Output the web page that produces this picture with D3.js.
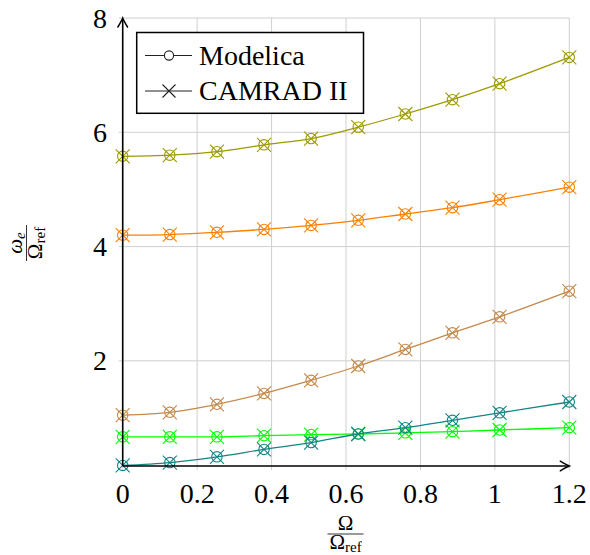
<!DOCTYPE html>
<html>
<head>
<meta charset="utf-8">
<script src="https://cdn.jsdelivr.net/npm/d3@7"></script>
</head>
<body style="margin:0;padding:0;background:#fff">
<svg id="chart" width="590" height="555" style="display:block"></svg>
<script>
// ---- data ----
const omegaRatio = [0, 0.1266, 0.2532, 0.3797, 0.5063, 0.6329, 0.7595, 0.8861, 1.0127, 1.2];
const modeOlive  = [5.58, 5.60, 5.66, 5.78, 5.89, 6.09, 6.32, 6.57, 6.85, 7.31];
const modeOrange = [4.20, 4.21, 4.25, 4.30, 4.37, 4.46, 4.57, 4.68, 4.82, 5.04];
const modeBrown  = [1.05, 1.10, 1.24, 1.43, 1.66, 1.91, 2.20, 2.49, 2.77, 3.22];
const modeGreen  = [0.67, 0.67, 0.67, 0.69, 0.71, 0.72, 0.74, 0.76, 0.79, 0.83];
const modeTeal   = [0.17, 0.22, 0.32, 0.45, 0.57, 0.72, 0.83, 0.96, 1.09, 1.28];
const xTicks = [0, 0.2, 0.4, 0.6, 0.8, 1, 1.2];
const yTicks = [2, 4, 6, 8];
const legendLabels = ["Modelica", "CAMRAD II"];
const seriesColors = ["#9d9a00", "#ff8000", "#c4884a", "#00ff00", "#138585"];

const series = [modeOlive, modeOrange, modeBrown, modeGreen, modeTeal];
const FONT = '"Liberation Serif"';

// ---- layout ----
const svg = d3.select("#chart");
const x = d3.scaleLinear().domain([0, 1.2]).range([122.7, 569.3]);
const y = d3.scaleLinear().domain([0.16, 8]).range([466, 18]);
const gridColor = "#cfcfcf";

// grid
const grid = svg.append("g");
grid.selectAll("line.vx").data(xTicks).enter().append("line")
  .attr("x1", d => x(d)).attr("x2", d => x(d))
  .attr("y1", y(0.16) + 4).attr("y2", y(8))
  .attr("stroke", gridColor).attr("stroke-width", 1);
grid.selectAll("line.hy").data(yTicks).enter().append("line")
  .attr("y1", d => y(d)).attr("y2", d => y(d))
  .attr("x1", x(0) - 4).attr("x2", x(1.2))
  .attr("stroke", gridColor).attr("stroke-width", 1);

// series
const line = d3.line().x((d, i) => x(omegaRatio[i])).y(d => y(d)).curve(d3.curveCatmullRom);
const plots = svg.append("g");
series.forEach((vals, si) => {
  const c = seriesColors[si];
  const g = plots.append("g");
  g.append("path").datum(vals).attr("d", line)
    .attr("fill", "none").attr("stroke", c).attr("stroke-width", 1.3);
  g.selectAll("circle").data(vals).enter().append("circle")
    .attr("cx", (d, i) => x(omegaRatio[i])).attr("cy", d => y(d)).attr("r", 5.2)
    .attr("fill", "none").attr("stroke", c).attr("stroke-width", 1.1);
  g.selectAll("path.cross").data(vals).enter().append("path")
    .attr("class", "cross")
    .attr("d", (d, i) => {
      const cx = x(omegaRatio[i]), cy = y(d), h = 7;
      return `M${cx - h},${cy - h}L${cx + h},${cy + h}M${cx - h},${cy + h}L${cx + h},${cy - h}`;
    })
    .attr("fill", "none").attr("stroke", c).attr("stroke-width", 1.1);
});

// axes
const axes = svg.append("g");
axes.append("line").attr("x1", x(0)).attr("x2", x(1.2) - 1).attr("y1", y(0.16)).attr("y2", y(0.16))
  .attr("stroke", "#000").attr("stroke-width", 1.6);
axes.append("line").attr("x1", x(0)).attr("x2", x(0)).attr("y1", y(0.16)).attr("y2", y(8) + 1)
  .attr("stroke", "#000").attr("stroke-width", 1.6);
axes.append("path")
  .attr("d", "M-9,-4.8 Q-3,-1.2 0,0 Q-3,1.2 -9,4.8")
  .attr("transform", `translate(${x(1.2)},${y(0.16)})`)
  .attr("fill", "none").attr("stroke", "#000").attr("stroke-width", 1.5).attr("stroke-linecap", "round");
axes.append("path")
  .attr("d", "M-9,-4.8 Q-3,-1.2 0,0 Q-3,1.2 -9,4.8")
  .attr("transform", `translate(${x(0)},${y(8)}) rotate(-90)`)
  .attr("fill", "none").attr("stroke", "#000").attr("stroke-width", 1.5).attr("stroke-linecap", "round");

// tick labels
axes.selectAll("text.xt").data(xTicks).enter().append("text")
  .style("font-family", FONT).style("font-size", "28px")
  .attr("x", d => x(d)).attr("y", 503)
  .attr("text-anchor", "middle").attr("fill", "#000")
  .text(d => String(d));
axes.selectAll("text.yt").data(yTicks).enter().append("text")
  .style("font-family", FONT).style("font-size", "28px")
  .attr("x", 107).attr("y", d => y(d) + 9.5)
  .attr("text-anchor", "end").attr("fill", "#000")
  .text(d => d);

// axis labels (fractions)
function fraction(g, num, den, barW) {
  const n = g.append("text").style("font-family", FONT).style("font-size", "21px")
    .attr("x", 0).attr("y", -4.5).attr("text-anchor", "middle");
  num(n);
  g.append("line").attr("x1", -barW / 2).attr("x2", barW / 2).attr("y1", 0).attr("y2", 0)
    .attr("stroke", "#333").attr("stroke-width", 1);
  const dd = g.append("text").style("font-family", FONT).style("font-size", "21px")
    .attr("x", 0).attr("y", 15).attr("text-anchor", "middle");
  den(dd);
}
const omegaRef = t => {
  t.append("tspan").text("Ω");
  t.append("tspan").style("font-size", "15px").attr("dy", 3).text("ref");
};
fraction(svg.append("g").attr("transform", "translate(345.5,534)"),
  t => t.append("tspan").text("Ω"), omegaRef, 36);
fraction(svg.append("g").attr("transform", "translate(26.5,243) rotate(-90)"),
  t => {
    t.append("tspan").style("font-style", "italic").text("ω");
    t.append("tspan").style("font-style", "italic").style("font-size", "15px").attr("dy", 3).text("e");
  }, omegaRef, 36);

// legend
const leg = svg.append("g");
leg.append("rect").attr("x", 136.7).attr("y", 32.5).attr("width", 226.8).attr("height", 80.8)
  .attr("fill", "#fff").attr("stroke", "#000").attr("stroke-width", 1.5);
legendLabels.forEach((lab, i) => {
  const cy = 55.5 + i * 35.5;
  leg.append("line").attr("x1", 145).attr("x2", 192).attr("y1", cy).attr("y2", cy)
    .attr("stroke", "#222").attr("stroke-width", 1.1);
  if (i === 0) {
    leg.append("circle").attr("cx", 169).attr("cy", cy).attr("r", 4.6)
      .attr("fill", "#fff").attr("stroke", "#222").attr("stroke-width", 1.1);
  } else {
    const h = 6.5;
    leg.append("path").attr("d", `M${169 - h},${cy - h}L${169 + h},${cy + h}M${169 - h},${cy + h}L${169 + h},${cy - h}`)
      .attr("fill", "none").attr("stroke", "#222").attr("stroke-width", 1.1);
  }
  leg.append("text").style("font-family", FONT).style("font-size", "28px")
    .attr("x", 199).attr("y", cy + 9).attr("fill", "#000").text(lab);
});
</script>
</body>
</html>
